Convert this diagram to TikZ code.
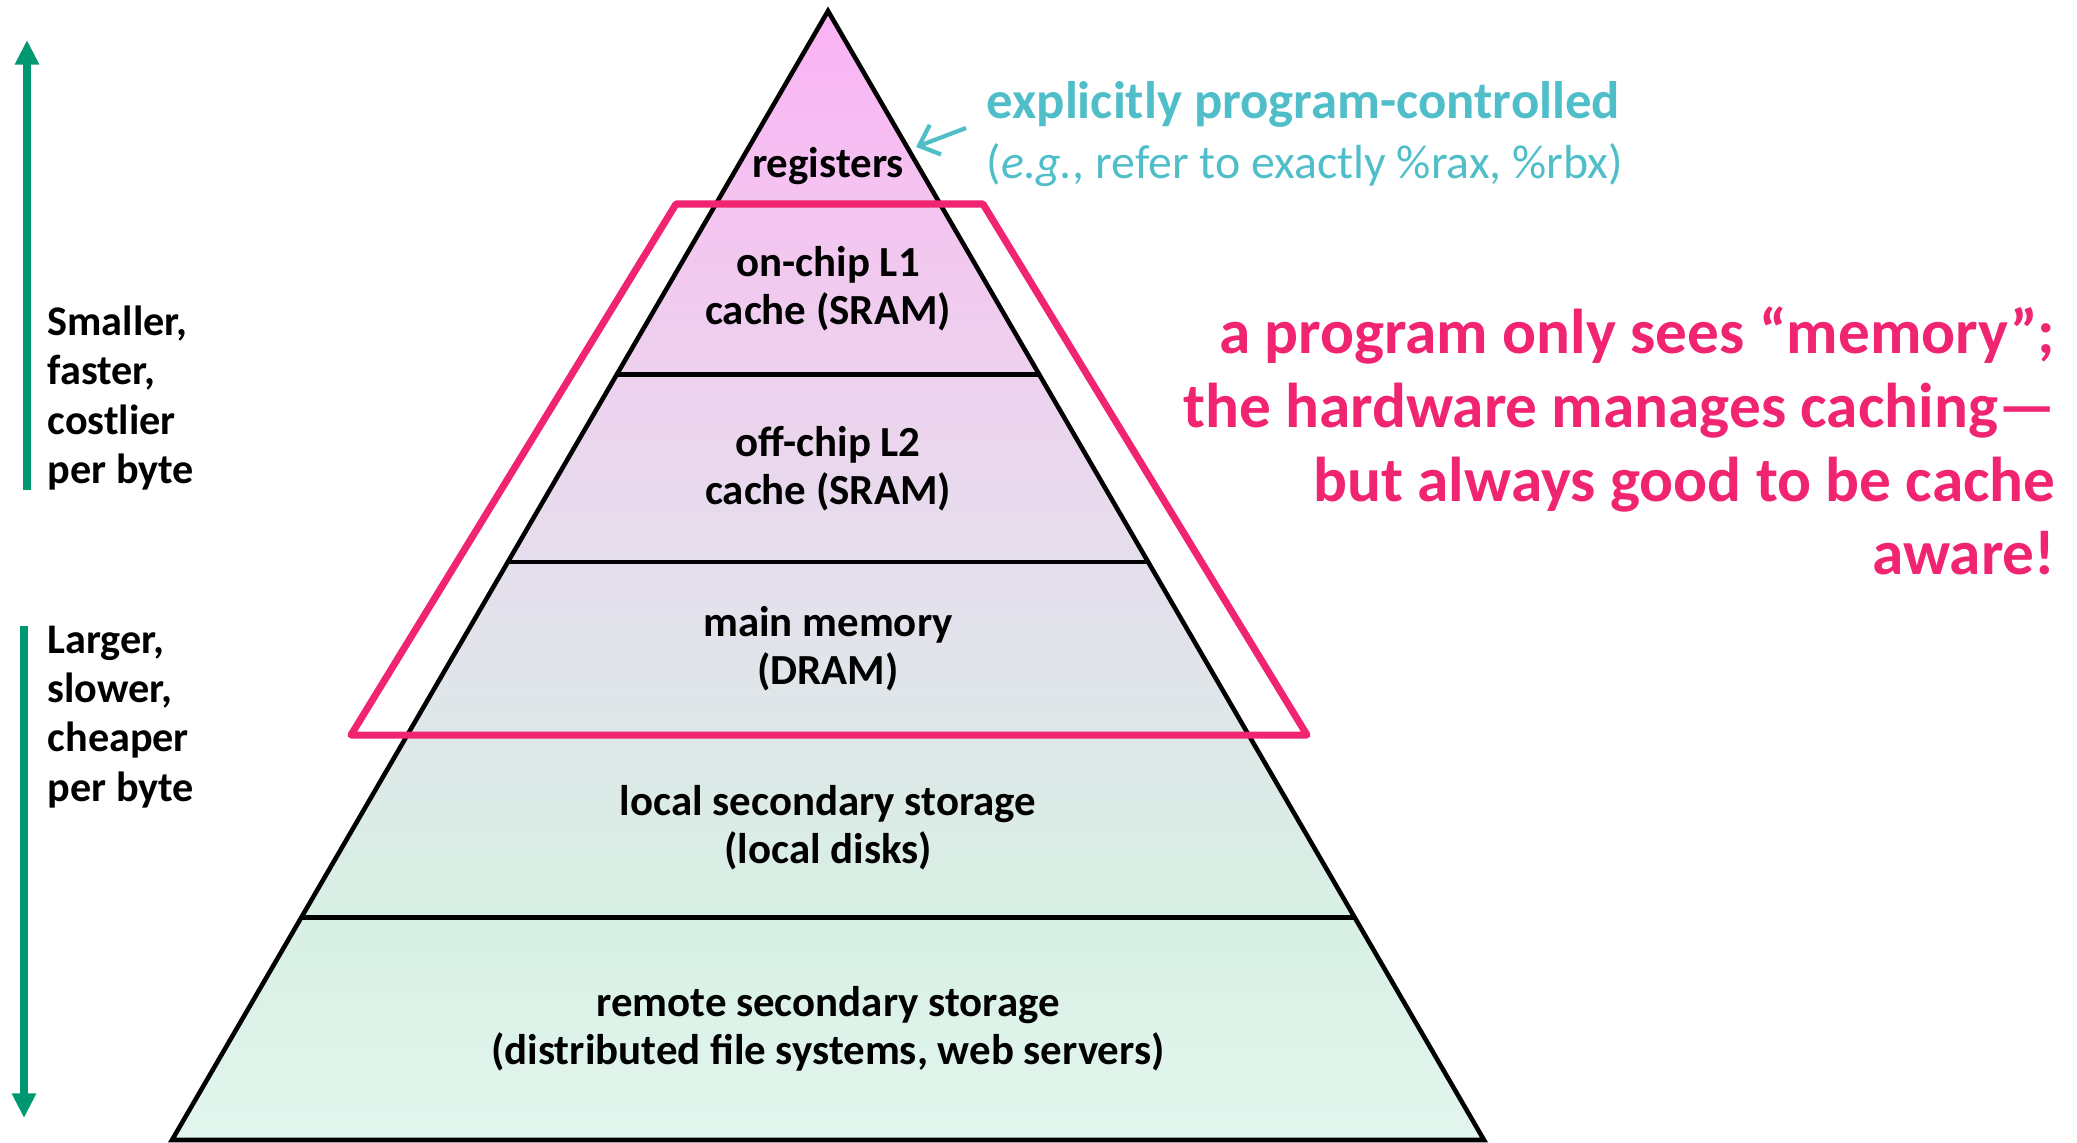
\documentclass[tikz,border=0pt]{standalone}
\usepackage{fontspec}
\setmainfont{Carlito}
\usetikzlibrary{calc,arrows.meta}
\definecolor{tierA}{RGB}{250,178,245}
\definecolor{tierB}{RGB}{244,196,240}
\definecolor{tierC}{RGB}{237,209,238}
\definecolor{tierD}{RGB}{229,222,236}
\definecolor{tierE}{RGB}{222,232,232}
\definecolor{tierF}{RGB}{216,240,228}
\definecolor{tierG}{RGB}{226,245,238}
\definecolor{awarepink}{RGB}{240,36,112}
\definecolor{ctlcyan}{RGB}{80,190,200}
\definecolor{gaugegreen}{RGB}{0,152,112}

\begin{document}
\begin{tikzpicture}[x=0.01cm,y=-0.01cm,
  tier/.style={font=\fontsize{12.2}{13.6}\selectfont\bfseries,align=center},
  sidetext/.style={font=\fontsize{12}{14}\selectfont\bfseries,align=left,anchor=west,inner sep=0pt},
  tierline/.style={line width=1.3pt},
  cachebox/.style={draw=awarepink,line width=2pt,line join=round},
  gauge/.style={draw=gaugegreen,line width=2.5pt,-{Triangle[length=7pt,width=6.5pt]}}]
\useasboundingbox (0,0) rectangle (2077,1142);
\coordinate (top) at (828,11);
\coordinate (bl) at (172,1140);
\coordinate (br) at (1484,1140);
\begin{scope}
\clip (top) -- (br) -- (bl) -- cycle;
\foreach \ya/\yb/\ca/\cb in {11/204/tierA/tierB,204/375/tierB/tierC,375/562/tierC/tierD,
    562/735/tierD/tierE,735/918/tierE/tierF,918/1142/tierF/tierG}
  \shade[top color=\ca,bottom color=\cb] (0,\ya) rectangle (2077,\yb);
\end{scope}
\foreach \t in {0.171,0.322,0.488,0.641,0.803}
  \draw[tierline] ($(top)!\t!(bl)$) -- ($(top)!\t!(br)$);
\draw[tierline,line join=miter] (bl) -- (top) -- (br) -- cycle;
\draw[cachebox] (676,204) -- (983,204) -- (1307,735) -- (351,735) -- cycle;

\node[tier] (reg) at (828,166) {registers};
\node[tier] (lone) at (828,289) {on-chip L1\\cache (SRAM)};
\node[tier] (ltwo) at (828,469) {off-chip L2\\cache (SRAM)};
\node[tier] (dram) at (828,649) {main memory\\(DRAM)};
\node[tier] (disk) at (828,828) {local secondary storage\\(local disks)};
\node[tier] (remote) at (828,1029) {remote secondary storage\\(distributed file systems, web servers)};

\node[sidetext] (fastlbl) at (47,398) {Smaller,\\faster,\\costlier\\per byte};
\node[sidetext] (slowlbl) at (47,717) {Larger,\\slower,\\cheaper\\per byte};
\coordinate (fasttip) at (27,40);
\coordinate (fastend) at (27,490);
\coordinate (slowtip) at (24,1118);
\coordinate (slowend) at (24,626);
\draw[gauge] (fastend) -- (fasttip);
\draw[gauge] (slowend) -- (slowtip);

\node[anchor=west,inner sep=0pt,align=left,text=ctlcyan,
  font=\fontsize{13.6}{17}\selectfont] (progctl) at (986,134)
  {{\fontsize{15}{17}\selectfont\bfseries explicitly program-controlled}\\(\textit{e.g.}, refer to exactly \%rax, \%rbx)};
\coordinate (ctltail) at (966,128);
\coordinate (regedge) at (916,147);
\draw[ctlcyan,line width=1.2pt,-{Straight Barb[length=5pt,width=9pt]}] (ctltail) -- (regedge);

\node[anchor=east,inner sep=0pt,align=right,text=awarepink,
  font=\fontsize{18}{21}\selectfont\bfseries] (hwnote) at (2056,441)
  {a program only sees “memory”;\\the hardware manages caching—\\but always good to be cache\\aware!};
\end{tikzpicture}
\end{document}
